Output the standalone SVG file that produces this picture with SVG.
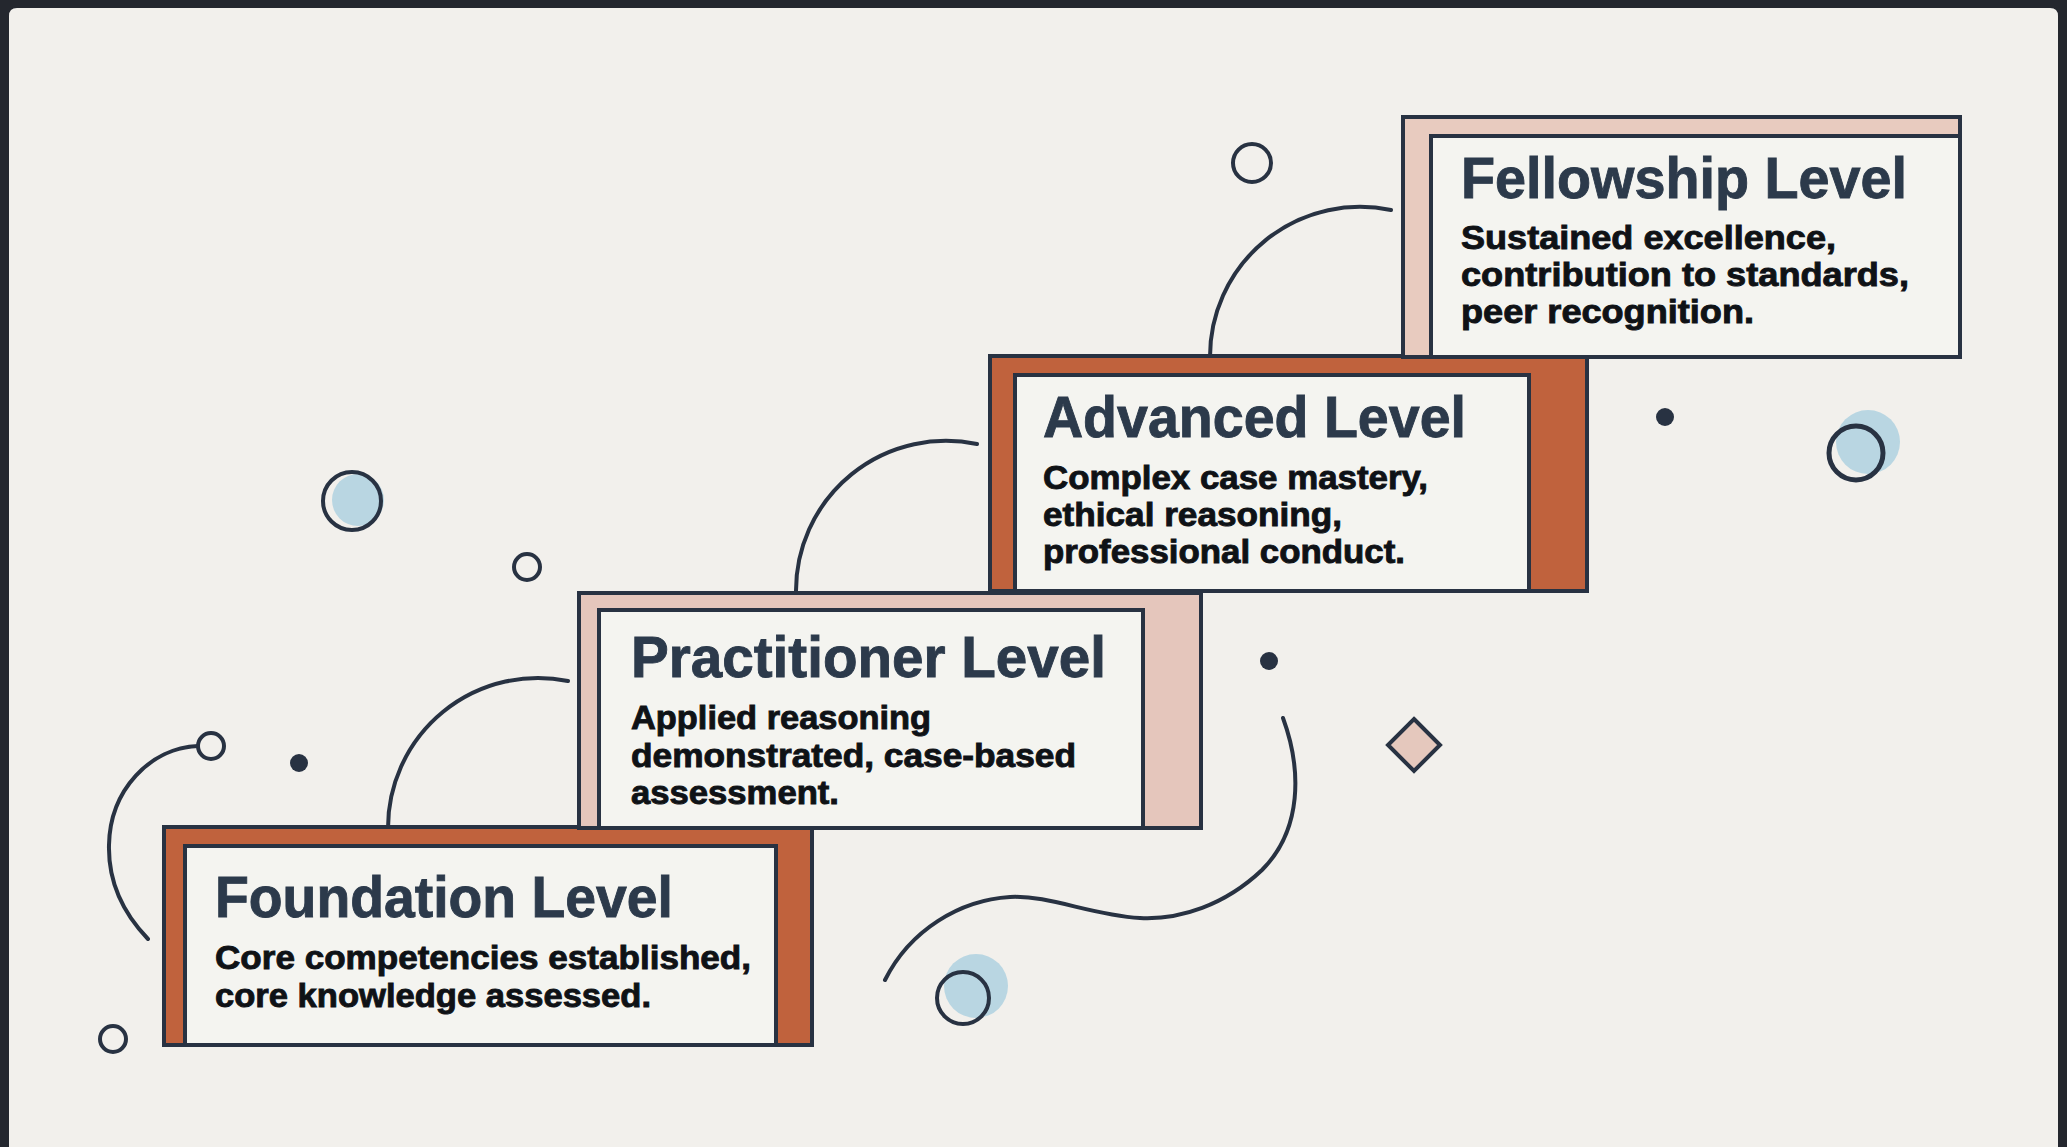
<svg xmlns="http://www.w3.org/2000/svg" width="2067" height="1147" viewBox="0 0 2067 1147">
<defs>
<style>
.outer{stroke:#283242;stroke-width:4}
.inner{fill:#f4f4f0;stroke:#283242;stroke-width:4}
.title{font-family:"Liberation Sans",Arial,sans-serif;font-weight:700;font-size:58px;fill:#2c3a4b;stroke:#2c3a4b;stroke-width:0.9}
.body{font-family:"Liberation Sans",Arial,sans-serif;font-weight:700;font-size:33px;fill:#0f1216;stroke:#0f1216;stroke-width:0.9}
.line{fill:none;stroke:#283242;stroke-width:4;stroke-linecap:round}
.ring{fill:none;stroke:#283242;stroke-width:4}
.dot{fill:#283242}
.blue{fill:#b9d6e2}
</style>
</defs>
<rect x="0" y="0" width="2067" height="1147" fill="#24272e"/>
<path d="M9,16 Q9,8 17,8 L2050,8 Q2058,8 2058,16 L2058,1147 L9,1147 Z" fill="#f2f0ec"/>

<g id="connectors">
<path class="line" d="M388,828 A150,150 0 0 1 568,681"/>
<path class="line" d="M796,591 A150,150 0 0 1 977,444"/>
<path class="line" d="M1210,357 A150,150 0 0 1 1391,210"/>
</g>

<g id="decorations">
<circle class="blue" cx="358" cy="500" r="26"/>
<circle class="ring" cx="352" cy="501" r="29"/>
<circle class="ring" cx="527" cy="567" r="13"/>
<circle class="ring" cx="211" cy="746" r="13"/>
<path class="line" d="M198,746 C150,748 110,790 109,845 C108,885 125,915 148,939"/>
<circle class="dot" cx="299" cy="763" r="9"/>
<circle class="ring" cx="113" cy="1039" r="13"/>
<circle class="ring" cx="1252" cy="163" r="19"/>
<circle class="dot" cx="1665" cy="417" r="9"/>
<circle class="blue" cx="1868" cy="442" r="32"/>
<circle class="ring" cx="1856" cy="453" r="27" style="stroke-width:5"/>
<circle class="dot" cx="1269" cy="661" r="9"/>
<path d="M1414,719 L1440,745 L1414,771 L1388,745 Z" fill="#e5c8bd" stroke="#283242" stroke-width="4" stroke-linejoin="miter"/>
<path class="line" d="M1283,718 C1302,770 1302,830 1262,870 C1225,905 1180,920 1140,918 C1090,915 1050,895 1010,897 C960,900 910,930 885,980"/>
<circle class="blue" cx="976" cy="986" r="32"/>
<circle class="ring" cx="963" cy="998" r="26"/>
</g>

<g id="foundation">
<rect class="outer" x="164" y="827" width="648" height="218" fill="#c0623d"/>
<rect class="inner" x="185" y="846" width="591" height="199"/>
<text class="title" x="215" y="917" textLength="458" lengthAdjust="spacingAndGlyphs">Foundation Level</text>
<text class="body" x="215" y="969" textLength="536" lengthAdjust="spacingAndGlyphs">Core competencies established,</text>
<text class="body" x="215" y="1007" textLength="436" lengthAdjust="spacingAndGlyphs">core knowledge assessed.</text>
</g>

<g id="practitioner">
<rect class="outer" x="579" y="593" width="622" height="235" fill="#e5c6bc"/>
<rect class="inner" x="599" y="610" width="544" height="218"/>
<text class="title" x="631" y="677" textLength="475" lengthAdjust="spacingAndGlyphs">Practitioner Level</text>
<text class="body" x="631" y="729" textLength="300" lengthAdjust="spacingAndGlyphs">Applied reasoning</text>
<text class="body" x="631" y="767" textLength="445" lengthAdjust="spacingAndGlyphs">demonstrated, case-based</text>
<text class="body" x="631" y="804" textLength="208" lengthAdjust="spacingAndGlyphs">assessment.</text>
</g>

<g id="advanced">
<rect class="outer" x="990" y="356" width="597" height="235" fill="#c0623d"/>
<rect class="inner" x="1015" y="375" width="514" height="216"/>
<text class="title" x="1043" y="437" textLength="423" lengthAdjust="spacingAndGlyphs">Advanced Level</text>
<text class="body" x="1043" y="489" textLength="385" lengthAdjust="spacingAndGlyphs">Complex case mastery,</text>
<text class="body" x="1043" y="526" textLength="299" lengthAdjust="spacingAndGlyphs">ethical reasoning,</text>
<text class="body" x="1043" y="563" textLength="362" lengthAdjust="spacingAndGlyphs">professional conduct.</text>
</g>

<g id="fellowship">
<rect class="outer" x="1403" y="117" width="557" height="240" fill="#e8cbbf"/>
<rect class="inner" x="1431" y="136" width="529" height="221"/>
<text class="title" x="1461" y="198" textLength="446" lengthAdjust="spacingAndGlyphs">Fellowship Level</text>
<text class="body" x="1461" y="249" textLength="375" lengthAdjust="spacingAndGlyphs">Sustained excellence,</text>
<text class="body" x="1461" y="286" textLength="448" lengthAdjust="spacingAndGlyphs">contribution to standards,</text>
<text class="body" x="1461" y="323" textLength="293" lengthAdjust="spacingAndGlyphs">peer recognition.</text>
</g>
</svg>
